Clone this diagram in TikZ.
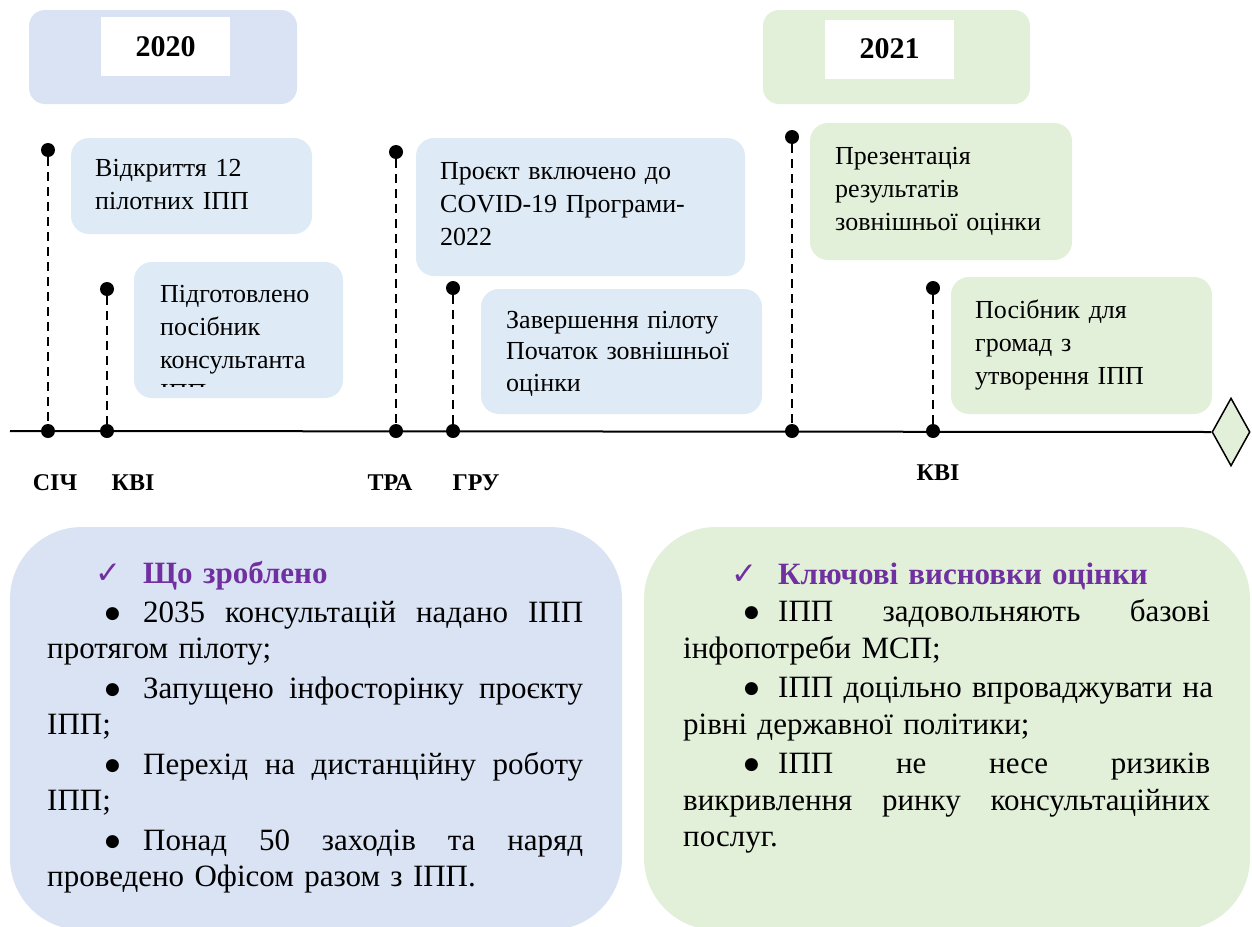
\documentclass[tikz,border=0pt]{standalone}
\usepackage{fontspec}
\setmainfont{Liberation Serif}
\newfontfamily\symfont{DejaVu Sans}
\usetikzlibrary{shapes.geometric}
\definecolor{yearblue}{HTML}{DAE3F3}
\definecolor{evblue}{HTML}{DEEAF6}
\definecolor{evgreen}{HTML}{E2EFD9}
\definecolor{headpurple}{HTML}{7030A0}
\newcommand{\chkmark}{\makebox[0pt][l]{\color{headpurple}\symfont\fontsize{31}{31}\selectfont ✓}}
\newcommand{\bul}{\raisebox{4pt}{\symfont\fontsize{17}{17}\selectfont ●}}
\newcommand{\jline}[2]{\leavevmode\hbox to #1{#2}}
\begin{document}
\begin{tikzpicture}[x=1pt,y=-1pt,
  yearbox/.style={rounded corners=16pt, inner sep=0pt, draw=none},
  yearlabel/.style={fill=white, inner sep=0pt, minimum width=129pt, minimum height=59pt, font=\fontsize{30}{30}\selectfont\bfseries},
  evbox/.style={rounded corners=18pt, inner sep=0pt, draw=none},
  evtext/.style={inner sep=0pt, text width=320pt, align=left, anchor=base west, font=\fontsize{26}{33}\selectfont},
  dot/.style={circle, fill=black, inner sep=0pt, minimum size=14pt},
  dashline/.style={line width=2.5pt, dash pattern=on 9pt off 6pt},
  month/.style={inner sep=0pt, font=\fontsize{24}{24}\selectfont\bfseries},
  bigbox/.style={rounded corners=72pt, inner sep=0pt, draw=none},
  bodytext/.style={inner sep=0pt, align=left, anchor=base west, font=\fontsize{31}{36.5}\selectfont}
]
\useasboundingbox (0,0) rectangle (1252,926);

% year boxes
\node[yearbox, fill=yearblue, minimum width=268pt, minimum height=94pt] (y2020bg) at (163,57) {};
\node[yearlabel] (y2020) at (165.5,46.5) {2020};
\node[yearbox, fill=evgreen, minimum width=267pt, minimum height=94pt] (y2021bg) at (896.5,57) {};
\node[yearlabel] (y2021) at (889.5,49) {2021};

% event boxes
\node[evbox, fill=evblue, minimum width=241pt, minimum height=96pt] (e1box) at (191.5,186) {};
\node[evtext] (e1text) at (95,176) {Відкриття 12\\пілотних ІПП};

\node[evbox, fill=evblue, minimum width=209pt, minimum height=136pt] (e2box) at (238.5,330) {};
\begin{scope}
\clip (134,262) rectangle (343,386);
\node[evtext] (e2text) at (160,302) {Підготовлено\\посібник\\консультанта\\ІПП};
\end{scope}

\node[evbox, fill=evblue, minimum width=329pt, minimum height=138pt] (e3box) at (580.5,207) {};
\node[evtext] (e3text) at (440,179) {Проєкт включено до\\COVID-19 Програми-\\2022};

\node[evbox, fill=evblue, minimum width=281pt, minimum height=125pt] (e4box) at (621.5,351.5) {};
\node[evtext, font=\fontsize{26}{31.5}\selectfont] (e4text) at (506,328) {Завершення пілоту\\Початок зовнішньої\\оцінки};

\node[evbox, fill=evgreen, minimum width=262pt, minimum height=137pt] (e5box) at (941,191.5) {};
\node[evtext] (e5text) at (835,164) {Презентація\\результатів\\зовнішньої оцінки};

\node[evbox, fill=evgreen, minimum width=261pt, minimum height=137pt] (e6box) at (1081.5,345.5) {};
\node[evtext] (e6text) at (975,318) {Посібник для\\громад з\\утворення ІПП};

% timeline axis
\node[diamond, draw=black, line width=1.5pt, fill=evgreen, inner sep=0pt, aspect=0.56, minimum width=38pt, minimum height=68pt] (endmark) at (1231,432) {};
\coordinate (axstart) at (10,431);
\draw[line width=2pt] (axstart) -- (endmark.west);

% event stems
\node[dot] (s1t) at (48,150) {};   \node[dot] (s1b) at (48,431) {};
\node[dot] (s2t) at (107,289) {};  \node[dot] (s2b) at (107,431) {};
\node[dot] (s3t) at (396,152) {};  \node[dot] (s3b) at (396,431) {};
\node[dot] (s4t) at (453,288) {};  \node[dot] (s4b) at (453,431) {};
\node[dot] (s5t) at (792,137) {};  \node[dot] (s5b) at (792,431) {};
\node[dot] (s6t) at (933,288) {};  \node[dot] (s6b) at (933,431) {};
\draw[dashline] (s1t) -- (s1b);
\draw[dashline] (s2t) -- (s2b);
\draw[dashline] (s3t) -- (s3b);
\draw[dashline] (s4t) -- (s4b);
\draw[dashline] (s5t) -- (s5b);
\draw[dashline] (s6t) -- (s6b);

% month labels
\node[month] (m1) at (55,483) {СІЧ};
\node[month] (m2) at (133,483) {КВІ};
\node[month] (m3) at (390,483) {ТРА};
\node[month] (m4) at (476,483) {ГРУ};
\node[month] (m5) at (938,473) {КВІ};

% bottom boxes
\node[bigbox, fill=yearblue, minimum width=612pt, minimum height=403pt] (donebox) at (316,728.5) {};
\node[bigbox, fill=evgreen, minimum width=606pt, minimum height=403pt] (keybox) at (947,728.5) {};

\node[bodytext, text width=536pt, font=\fontsize{31}{35.8}\selectfont] (donetext) at (47,583) {%
\hspace*{48pt}\makebox[48pt][l]{\chkmark}{\bfseries\color{headpurple}Що зроблено}\\[4pt]
\hspace*{58pt}\makebox[38pt][l]{\bul}\jline{440pt}{2035 \hfil консультацій \hfil надано \hfil ІПП}\\
протягом пілоту;\\[4.3pt]
\hspace*{58pt}\makebox[38pt][l]{\bul}\jline{440pt}{Запущено \hfil інфосторінку \hfil проєкту}\\
ІПП;\\[4.3pt]
\hspace*{58pt}\makebox[38pt][l]{\bul}\jline{440pt}{Перехід \hfil на \hfil дистанційну \hfil роботу}\\
ІПП;\\[4.3pt]
\hspace*{58pt}\makebox[38pt][l]{\bul}\jline{440pt}{Понад \hfil 50 \hfil заходів \hfil та \hfil наряд}\\
проведено Офісом разом з ІПП.};

\node[bodytext, text width=527pt] (keytext) at (683,584) {%
\hspace*{48pt}\makebox[47pt][l]{\chkmark}{\bfseries\color{headpurple}Ключові висновки оцінки}\\[1pt]
\hspace*{61pt}\makebox[34pt][l]{\bul}\jline{432pt}{ІПП \hfil задовольняють \hfil базові}\\
інфопотреби МСП;\\[3pt]
\hspace*{61pt}\makebox[34pt][l]{\bul}\jline{432pt}{ІПП \hfil доцільно \hfil впроваджувати \hfil на}\\
рівні державної політики;\\[3pt]
\hspace*{61pt}\makebox[34pt][l]{\bul}\jline{432pt}{ІПП \hfil не \hfil несе \hfil ризиків}\\
\jline{527pt}{викривлення \hfil ринку \hfil консультаційних}\\
послуг.};
\end{tikzpicture}
\end{document}
